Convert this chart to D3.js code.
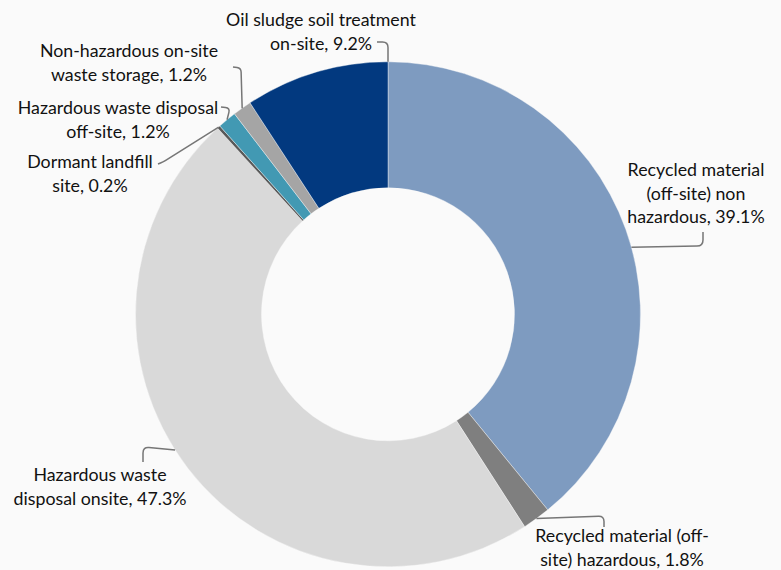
<!DOCTYPE html>
<html>
<head>
<meta charset="utf-8">
<script src="https://cdn.jsdelivr.net/npm/d3@7"></script>
<style>
  html, body { margin: 0; padding: 0; background: #fafafa; }
  svg { display: block; }
</style>
</head>
<body>
<svg id="chart" width="781" height="570"></svg>
<script>
// Waste handling breakdown, share of total (%)
const categories = [
  "Recycled material (off-site) non hazardous",
  "Recycled material (off-site) hazardous",
  "Hazardous waste disposal onsite",
  "Dormant landfill site",
  "Hazardous waste disposal off-site",
  "Non-hazardous on-site waste storage",
  "Oil sludge soil treatment on-site"
];
const shares = [39.1, 1.8, 47.3, 0.2, 1.2, 1.2, 9.2];
const colors = ["#7e9bc0", "#7f7f7f", "#d9d9d9", "#595959", "#4299b3", "#a5a5a5", "#02397f"];

// Label text, split into lines as set on the chart
const labelLines = [
  ["Recycled material", "(off-site) non", "hazardous, 39.1%"],
  ["Recycled material (off-", "site) hazardous, 1.8%"],
  ["Hazardous waste", "disposal onsite, 47.3%"],
  ["Dormant landfill", "site, 0.2%"],
  ["Hazardous waste disposal", "off-site, 1.2%"],
  ["Non-hazardous on-site", "waste storage, 1.2%"],
  ["Oil sludge soil treatment", "on-site, 9.2%"]
];

// Layout: label centres (x of text centre, baseline of first line)
const labelPos = [
  [696, 176], [622, 542], [100, 481], [90, 168], [118, 114], [129, 57], [321, 26]
];
// Where along each slice (0 = start, 1 = end) the leader line touches the rim
const anchorAt = [0.53, 0.5, 0.53, 0.5, 0.5, 0.5, 1.0];
// Leader start (near the label) and elbow point
const leaderStart = [
  [703, 232], [604, 527], [143, 462], [158, 164], [221, 107], [233, 67], [377, 42]
];
const leaderElbow = [
  [703, 246], [604, 516], [143, 447], [163, 162], [230, 108], [241, 68], [388, 42]
];

const cx = 388, cy = 314.3, outerR = 252.5, innerR = 126.5;
const svg = d3.select("#chart");
const g = svg.append("g").attr("transform", `translate(${cx},${cy})`);

const pie = d3.pie().value(d => d).sort(null);
const arcs = pie(shares);
const arc = d3.arc().innerRadius(innerR).outerRadius(outerR);

g.selectAll("path.slice")
  .data(arcs)
  .join("path")
  .attr("class", "slice")
  .attr("d", arc)
  .attr("fill", (d, i) => colors[i])
  .attr("stroke", "#fafafa")
  .attr("stroke-width", 0.4);

// Leader lines: label -> rounded elbow -> point on outer rim
function rimPoint(d, t) {
  const a = d.startAngle + (d.endAngle - d.startAngle) * t;
  return [cx + outerR * Math.sin(a), cy - outerR * Math.cos(a)];
}
function leaderPath(s, e, p, r) {
  const d1 = Math.hypot(e[0] - s[0], e[1] - s[1]);
  const d2 = Math.hypot(p[0] - e[0], p[1] - e[1]);
  const rr = Math.min(r, d1 / 2, d2 / 2);
  const a = [e[0] - (e[0] - s[0]) / d1 * rr, e[1] - (e[1] - s[1]) / d1 * rr];
  const b = [e[0] + (p[0] - e[0]) / d2 * rr, e[1] + (p[1] - e[1]) / d2 * rr];
  return `M${s[0]},${s[1]}L${a[0]},${a[1]}Q${e[0]},${e[1]} ${b[0]},${b[1]}L${p[0]},${p[1]}`;
}

svg.append("g")
  .selectAll("path")
  .data(arcs)
  .join("path")
  .attr("d", (d, i) => leaderPath(leaderStart[i], leaderElbow[i], rimPoint(d, anchorAt[i]), 6))
  .attr("fill", "none")
  .attr("stroke", "#767676")
  .attr("stroke-width", 1.5);

// Data labels
const lineH = 23.7;
const labels = svg.append("g")
  .attr("font-family", "Lato, 'Open Sans', sans-serif")
  .attr("font-size", 17.8)
  .attr("fill", "#111111")
  .attr("text-anchor", "middle");

labels.selectAll("text")
  .data(categories)
  .join("text")
  .attr("x", (d, i) => labelPos[i][0])
  .attr("y", (d, i) => labelPos[i][1])
  .each(function(d, i) {
    d3.select(this).selectAll("tspan")
      .data(labelLines[i])
      .join("tspan")
      .attr("x", labelPos[i][0])
      .attr("dy", (t, j) => j === 0 ? 0 : lineH)
      .text(t => t);
  });
</script>
</body>
</html>
